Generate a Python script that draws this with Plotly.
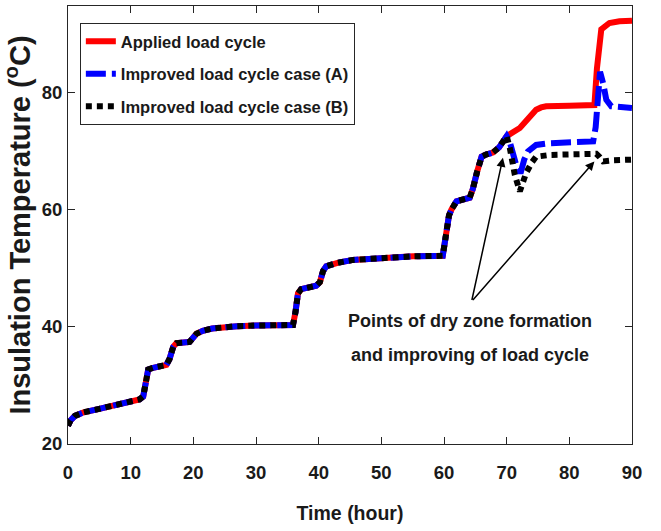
import plotly.graph_objects as go

# ---------------- data ----------------
# shared part of all three curves (0 - 70 h)
time_common = [0, 0.4, 1.1, 2.5, 5.0, 8.0, 11.4, 12.0, 12.4, 12.8, 13.6, 15.7, 16.2,
               16.8, 17.3, 19.4, 20.5, 21.5, 23.0, 24.7, 27.0, 30.0, 35.9, 36.3, 36.7,
               37.2, 39.6, 40.2, 40.7, 41.2, 43.0, 45.5, 50.0, 55.0, 59.8, 60.3, 60.8,
               61.2, 62.0, 64.1, 64.6, 65.3, 66.0, 66.8, 67.8, 68.8, 69.5, 70.0]
temp_common = [23.1, 24.0, 24.8, 25.4, 26.0, 26.8, 27.6, 28.1, 30.5, 32.7, 33.0, 33.5, 34.5,
               36.6, 37.2, 37.4, 38.8, 39.3, 39.7, 39.95, 40.1, 40.2, 40.3, 42.5, 45.7,
               46.4, 47.0, 47.6, 49.5, 50.3, 50.9, 51.4, 51.8, 52.0, 52.1, 55.5, 59.0,
               60.0, 61.4, 62.0, 63.5, 66.5, 69.0, 69.4, 69.7, 70.6, 71.6, 72.5]

# applied load cycle after 70 h
time_applied_tail = [70.0, 72.1, 74.7, 75.5, 76.3, 80.0, 84.0, 84.4, 85.1, 86.4, 88.0, 90.0]
temp_applied_tail = [72.5, 73.9, 77.0, 77.4, 77.6, 77.7, 77.8, 84.0, 90.7, 91.8, 92.1, 92.2]

# improved case (A) after 70 h
time_a_tail = [70.0, 70.5, 71.3, 71.8, 72.3, 72.8, 73.4, 74.7, 76.9, 80.0, 83.8, 84.2,
               84.6, 84.9, 85.4, 85.9, 86.7, 88.0, 90.0]
temp_a_tail = [72.5, 71.5, 68.0, 66.5, 66.5, 68.5, 69.9, 71.0, 71.3, 71.5, 71.6, 74.0,
               80.0, 83.5, 81.5, 78.7, 77.6, 77.4, 77.3]

# improved case (B) after 70 h
time_b_tail = [70.0, 70.5, 71.3, 72.1, 72.6, 73.1, 74.0, 74.7, 76.9, 80.0, 84.3, 84.8,
               85.4, 87.0, 90.0]
temp_b_tail = [72.5, 70.5, 65.9, 63.1, 64.5, 66.2, 68.0, 69.0, 69.3, 69.4, 69.5, 69.0,
               68.2, 68.4, 68.5]

series_names = ["Applied load cycle", "Improved load cycle case (A)",
                "Improved load cycle case (B)"]
x_ticks = [0, 10, 20, 30, 40, 50, 60, 70, 80, 90]
y_ticks = [20, 40, 60, 80]

# ---------------- figure ----------------
FONT = "Liberation Sans, Arial, sans-serif"
TXT = "#1a1a1a"
AX = "#262626"

fig = go.Figure()
fig.add_trace(go.Scatter(x=time_common + time_applied_tail[1:],
                         y=temp_common + temp_applied_tail[1:],
                         mode="lines", name=series_names[0], legendgroup="r",
                         line=dict(color="#ff0000", width=6)))
fig.add_trace(go.Scatter(x=time_common + time_a_tail[1:],
                         y=temp_common + temp_a_tail[1:],
                         mode="lines", name=series_names[1], legendgroup="a",
                         line=dict(color="#0000ff", width=6, dash="20px,6px")))
fig.add_trace(go.Scatter(x=time_common + time_b_tail[1:],
                         y=temp_common + temp_b_tail[1:],
                         mode="lines", name=series_names[2], legendgroup="b",
                         line=dict(color="#000000", width=6, dash="6px,5px")))

axis_common = dict(ticks="inside", ticklen=7, tickwidth=1, tickcolor=AX,
                   showline=True, linecolor=AX, linewidth=1, mirror="ticks",
                   showgrid=False, zeroline=False,
                   tickfont=dict(family=FONT, size=18.5, color=TXT, weight="bold"))

fig.update_layout(
    width=661, height=531,
    margin=dict(l=68, r=29, t=6, b=87),
    paper_bgcolor="white", plot_bgcolor="white",
    xaxis=dict(range=[0, 90], tickvals=x_ticks, ticklabelstandoff=12,
               title=dict(text="Time (hour)", standoff=24,
                          font=dict(family=FONT, size=19.5, color=TXT, weight="bold")),
               **axis_common),
    yaxis=dict(range=[20, 94.7], tickvals=y_ticks, ticklabelstandoff=1,
               title=dict(text="Insulation Temperature (<sup>o</sup>C)", standoff=3,
                          font=dict(family=FONT, size=29, color=TXT, weight="bold")),
               **axis_common),
    legend=dict(x=0.021, y=0.961, xanchor="left", yanchor="top",
                bgcolor="white", bordercolor=AX, borderwidth=1,
                itemwidth=30, tracegroupgap=8,
                font=dict(family=FONT, size=16.5, color=TXT, weight="bold")),
    showlegend=True,
)

ann_font = dict(family=FONT, size=18, color=TXT, weight="bold")
fig.add_annotation(x=69.4, y=68.8, ax=64.4, ay=44.3, xref="x", yref="y",
                   axref="x", ayref="y", text="", showarrow=True,
                   arrowhead=2, arrowsize=1.2, arrowwidth=1.5, arrowcolor="black")
fig.add_annotation(x=84.0, y=68.2, ax=64.4, ay=44.3, xref="x", yref="y",
                   axref="x", ayref="y", text="", showarrow=True,
                   arrowhead=2, arrowsize=1.2, arrowwidth=1.5, arrowcolor="black")
fig.add_annotation(x=64.2, y=40.9, xref="x", yref="y", text="Points of dry zone formation",
                   showarrow=False, font=ann_font)
fig.add_annotation(x=64.2, y=35.2, xref="x", yref="y", text="and improving of load cycle",
                   showarrow=False, font=ann_font)

fig.write_html("out.html")
